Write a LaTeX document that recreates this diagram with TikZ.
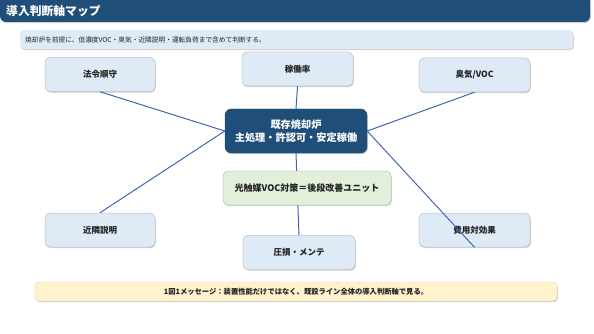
\documentclass[tikz,border=0pt]{standalone}
\usepackage{fontspec}
\setmainfont{Noto Sans CJK JP}
\usetikzlibrary{shadows}
\definecolor{navy}{HTML}{1F4E79}
\definecolor{satfill}{HTML}{DEEAF6}
\definecolor{satdraw}{HTML}{B8C0C8}
\definecolor{linkblue}{HTML}{3F66B0}
\definecolor{greenfill}{HTML}{E2EFDA}
\definecolor{greendraw}{HTML}{B8C8AC}
\definecolor{yellowfill}{HTML}{FFF2CC}
\definecolor{yellowdraw}{HTML}{E6D6A8}
\definecolor{txt}{HTML}{222222}
\tikzset{
  shadowed/.style={drop shadow={shadow xshift=0.8pt,shadow yshift=-1.2pt,opacity=0.3,fill=black!60}},
  satbox/.style={shadowed,rounded corners=5pt,fill=satfill,draw=satdraw,line width=0.5pt,
    minimum width=110pt,minimum height=34pt,font=\fontsize{8.5}{10}\selectfont\bfseries,text=txt},
  hubbox/.style={shadowed,rounded corners=6pt,fill=navy,draw=navy,
    minimum width=142pt,minimum height=44pt,font=\fontsize{10.2}{13}\selectfont\bfseries,text=white,align=center},
  unitbox/.style={shadowed,rounded corners=5pt,fill=greenfill,draw=greendraw,line width=0.5pt,
    minimum width=168pt,minimum height=34pt,font=\fontsize{9}{11}\selectfont\bfseries,text=txt},
  link/.style={draw=linkblue,line width=1pt},
}
\begin{document}
\begin{tikzpicture}[x=1pt,y=-1pt]
\useasboundingbox (0,0) rectangle (594,334);
% title bar
\node[shadowed,fill=navy,rounded corners=6pt,minimum width=590pt,minimum height=28pt,inner sep=0pt] (bar) at (295,8) {};
\node[anchor=west,text=white,font=\fontsize{11.8}{13}\selectfont\bfseries,inner sep=0pt] (title) at (6,11) {導入判断軸マップ};
% subtitle
\node[shadowed,fill=satfill,rounded corners=4pt,minimum width=553pt,minimum height=19pt,inner sep=0pt] (sub) at (296.5,39.5) {};
\node[anchor=west,text=txt,font=\fontsize{6.7}{8}\selectfont,inner sep=0pt] (subtext) at (25,39.5) {焼却炉を前提に、低濃度VOC・臭気・近隣説明・運転負荷まで含めて判断する。};
% satellites
\node[satbox] (law) at (100,74.5) {法令順守};
\node[satbox,minimum width=111pt] (rate) at (297.5,69) {稼働率};
\node[satbox,minimum width=111pt] (odor) at (474.5,75) {臭気/VOC};
\node[satbox] (nbr) at (100,230) {近隣説明};
\node[satbox,minimum width=111pt] (cost) at (474.5,230) {費用対効果};
\node[satbox,minimum width=112pt] (maint) at (299,252.5) {圧損・メンテ};
% hub
\node[hubbox] (hub) at (296,131) {既存焼却炉\\主処理・許認可・安定稼働};
% links
\draw[link] (hub.north) -- (rate.south);
\draw[link] (hub.west) -- (law.south);
\draw[link] (hub.west) -- (nbr.north);
\draw[link] (hub.east) -- (odor.south);
\draw[link] (hub.east) -- (cost.south);
\draw[link] (hub.south) -- (maint.north);
% unit
\node[unitbox] (unit) at (307,188) {光触媒VOC対策＝後段改善ユニット};
% message
\node[shadowed,fill=yellowfill,draw=yellowdraw,line width=0.4pt,rounded corners=4pt,minimum width=522pt,minimum height=19pt,inner sep=0pt,
  font=\fontsize{7.3}{8}\selectfont\bfseries,text=txt] (msg) at (296,291.5) {1図1メッセージ：装置性能だけではなく、既設ライン全体の導入判断軸で見る。};
\end{tikzpicture}
\end{document}
